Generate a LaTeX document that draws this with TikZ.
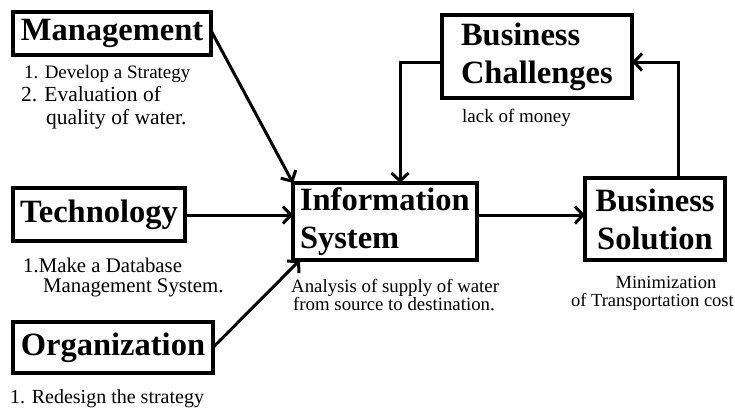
\documentclass[tikz,border=0pt]{standalone}
\usepackage{fontspec}
\setmainfont{Liberation Serif}
\usetikzlibrary{arrows.meta,calc}
\begin{document}
\begin{tikzpicture}[x=1pt,y=-1pt,
  box/.style={draw, line width=3.8pt, inner sep=0pt, outer sep=0pt,
    font=\fontsize{32.5}{38}\selectfont\bfseries},
  note/.style={inner sep=0pt, anchor=base west},
  arr/.style={line width=3pt, -{Straight Barb[length=8pt,width=17pt,line width=3pt]}}
]
\useasboundingbox (0,0) rectangle (735,410);

% boxes
\node[box, minimum width=198pt, minimum height=43pt] (mgmt) at (112,33.5) {Management};
\node[box, minimum width=172pt, minimum height=53pt] (tech) at (99,214.5) {Technology};
\node[box, minimum width=200pt, minimum height=51pt] (org) at (113,347.5) {Organization};
\node[box, minimum width=184pt, minimum height=77pt, text width=170pt, align=left] (info) at (385,221.5) {Information\\System};
\node[box, minimum width=190pt, minimum height=83pt, text width=152pt, align=left] (chal) at (537,56.5) {Business\\Challenges};
\node[box, minimum width=140pt, minimum height=82pt, align=center] (sol) at (655,219) {Business\\Solution};

% notes
\node[note, font=\fontsize{19}{21}\selectfont] (m1) at (24,78) {1. Develop a Strategy};
\node[note, font=\fontsize{21.5}{22}\selectfont] (m2) at (21,101) {2. Evaluation of};
\node[note, font=\fontsize{21.5}{22}\selectfont] (m3) at (46,124) {quality of water.};
\node[note, font=\fontsize{20.8}{22}\selectfont] (t1) at (23,272) {1.Make a Database};
\node[note, font=\fontsize{20.8}{22}\selectfont] (t2) at (43,292) {Management System.};
\node[note, font=\fontsize{20}{22}\selectfont] (o1) at (10,403) {1. Redesign the strategy};
\node[note, font=\fontsize{18.8}{20}\selectfont] (i1) at (291,292) {Analysis of supply of water};
\node[note, font=\fontsize{18.8}{20}\selectfont] (i2) at (293,310) {from source to destination.};
\node[note, font=\fontsize{19}{20}\selectfont] (c1) at (462,122) {lack of money};
\node[inner sep=0pt, anchor=base, font=\fontsize{18.5}{20}\selectfont] (s1) at (666,288) {Minimization};
\node[inner sep=0pt, anchor=base east, font=\fontsize{18.5}{20}\selectfont] (s2) at (734,306) {of Transportation cost};

% bend points
\coordinate (row) at (0,215);
\coordinate (ct) at (400,62);
\coordinate (cs) at (678,62);

% connectors
\draw[arr] ([yshift=3pt]mgmt.east) -- (info.north west);
\draw[arr] (tech.east |- row) -- (info.west |- row);
\draw[arr] (org.east) -- ([xshift=7pt]info.south west);
\draw[arr] (info.east |- row) -- (sol.west |- row);
\draw[arr] (cs |- sol.north) -- (cs) -- (chal.east |- cs);
\draw[arr] (chal.west |- ct) -- (ct) -- (ct |- info.north);
\end{tikzpicture}
\end{document}
